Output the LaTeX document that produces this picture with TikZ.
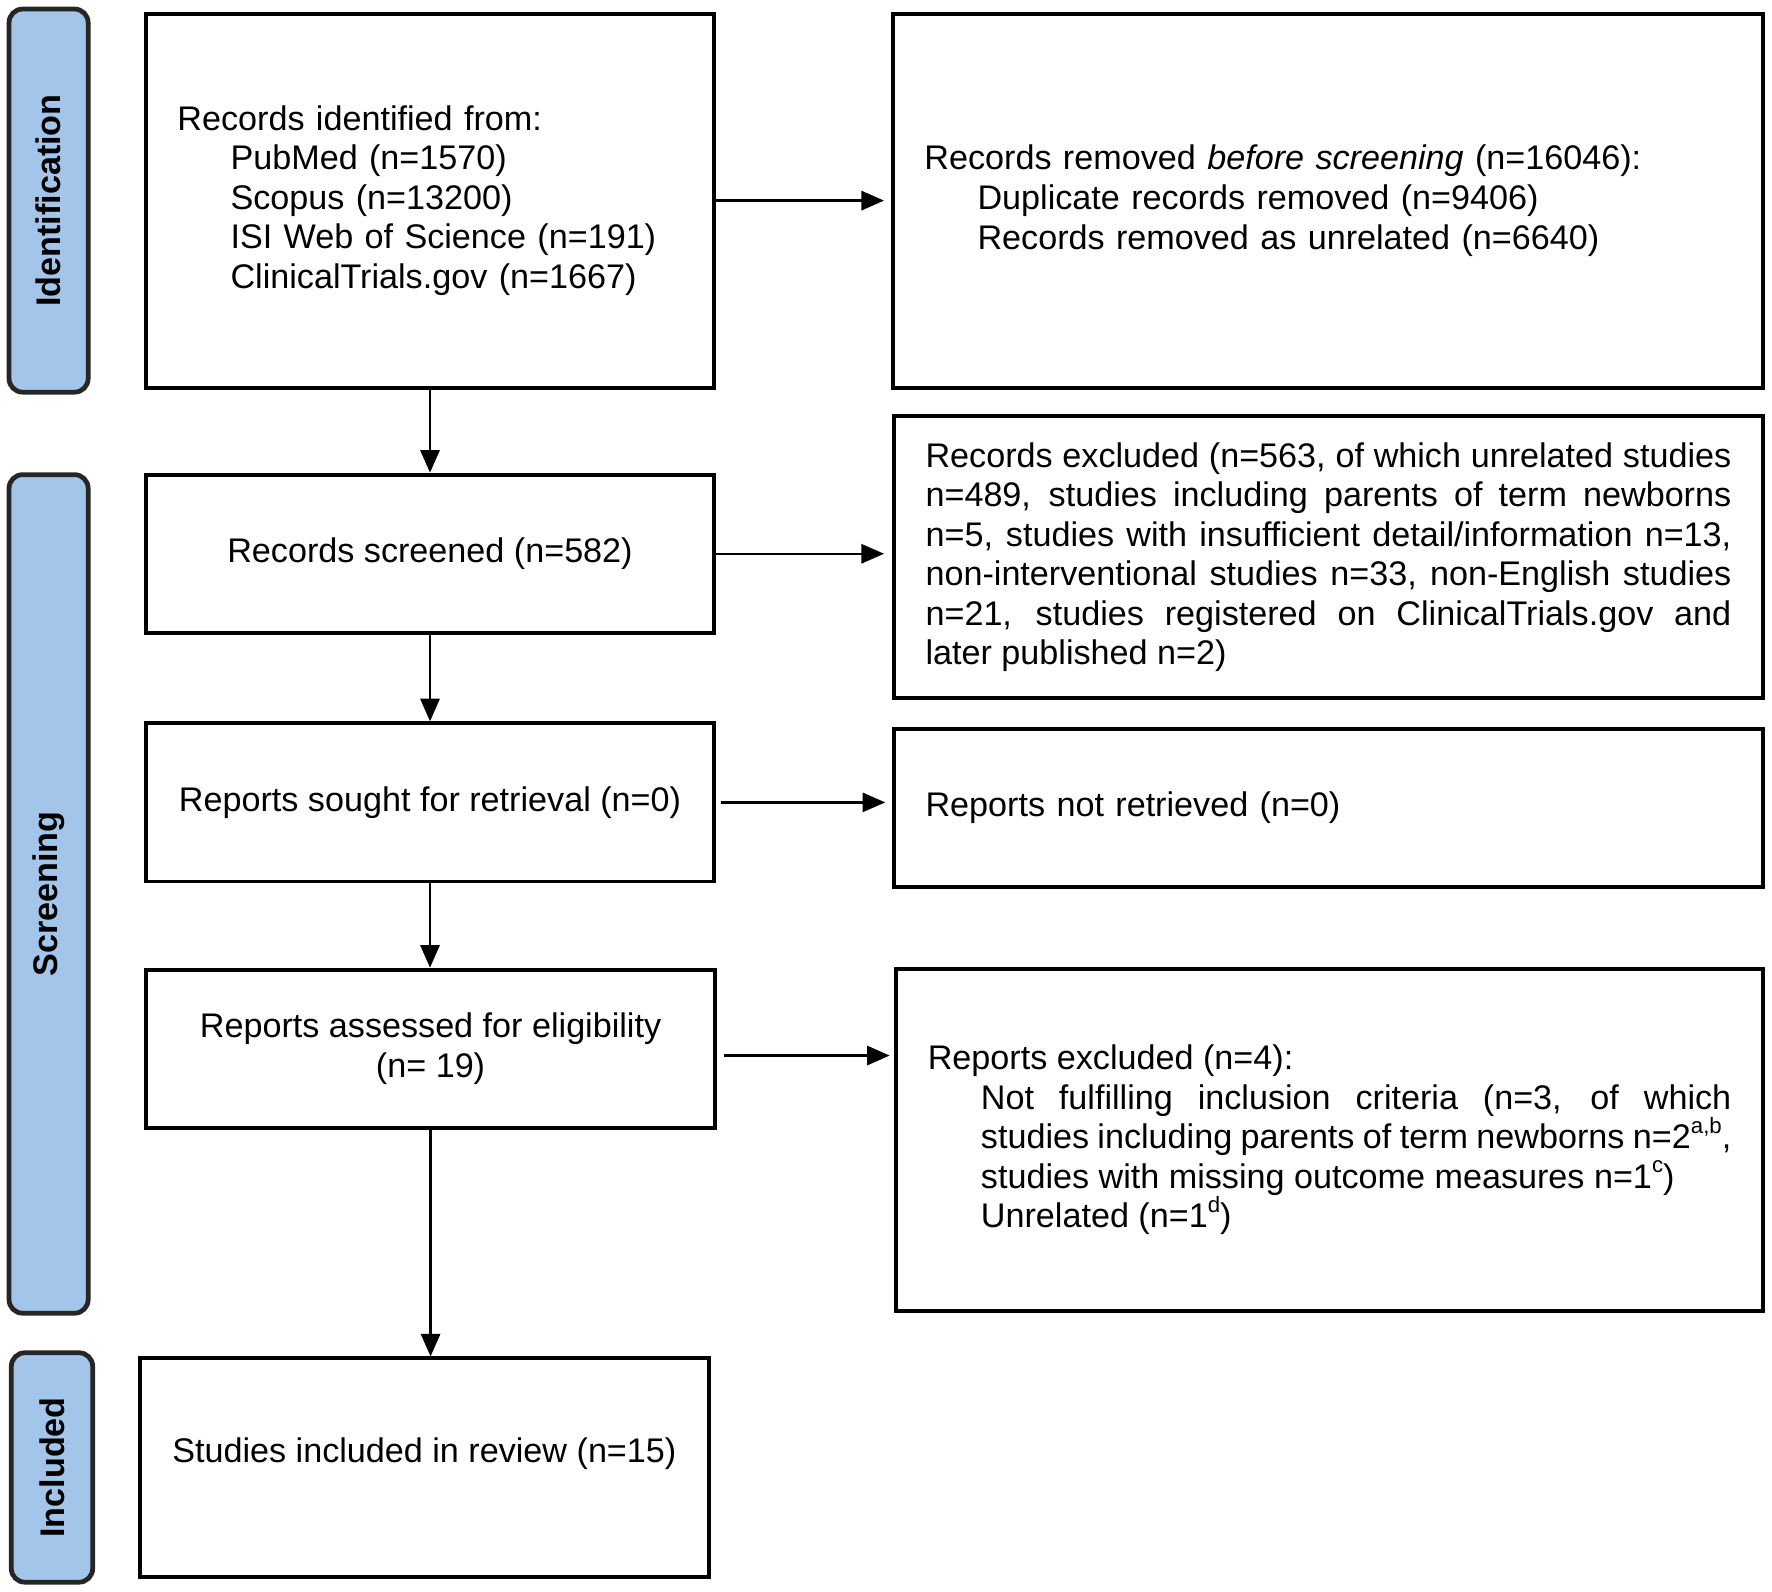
\documentclass[tikz,border=0pt]{standalone}
\usepackage{fontspec}
\setmainfont{Liberation Sans}
\usetikzlibrary{arrows.meta}
\definecolor{lanefill}{RGB}{162,197,233}
\setlength{\parindent}{0pt}
\newcommand{\fnmark}[1]{\raisebox{0.85ex}{\fontsize{5.6pt}{6pt}\selectfont #1}}

\begin{document}
\begin{tikzpicture}[
    font=\fontsize{8.6pt}{9.96pt}\selectfont,
    box/.style={draw, line width=1pt, inner xsep=0.28cm, inner ysep=0pt},
    lane/.style={draw=black!85, line width=1.2pt, rounded corners=0.12cm, fill=lanefill,
        rotate=90, inner sep=0pt, font=\fontsize{8.6pt}{9.96pt}\selectfont\bfseries},
    flow/.style={-{Triangle[length=0.2cm, width=0.17cm]}, line width=0.6pt}
]
    \useasboundingbox (0, 0) rectangle (15.68, -14.087);

    % phases
    \node[lane, minimum width=3.39cm, minimum height=0.70cm] (idlane) at (0.43, -1.775) {Identification};
    \node[lane, minimum width=7.42cm, minimum height=0.70cm] (screenlane) at (0.43, -7.91) {Screening};
    \node[lane, minimum width=2.03cm, minimum height=0.72cm] (inclane) at (0.46, -12.985) {Included};

    % left column
    \node[box, minimum width=5.03cm, minimum height=3.31cm, text width=4.47cm, align=left] (ident) at (3.805, -1.775)
        {Records identified from:\\
        \hspace*{0.47cm}PubMed (n=1570)\\
        \hspace*{0.47cm}Scopus (n=13200)\\
        \hspace*{0.47cm}ISI Web of Science (n=191)\\
        \hspace*{0.47cm}ClinicalTrials.gov (n=1667)};
    \node[box, minimum width=5.03cm, minimum height=1.40cm, align=center] (screened) at (3.805, -4.90)
        {Records screened (n=582)};
    \node[box, minimum width=5.03cm, minimum height=1.40cm, align=center] (sought) at (3.805, -7.10)
        {Reports sought for retrieval (n=0)};
    \node[box, minimum width=5.04cm, minimum height=1.40cm, align=center] (assessed) at (3.81, -9.28)
        {Reports assessed for eligibility\\(n= 19)};
    \node[box, minimum width=5.03cm, minimum height=1.93cm, align=center] (included) at (3.755, -12.985)
        {\raisebox{0.3cm}{Studies included in review (n=15)}};

    % right column
    \node[box, minimum width=7.70cm, minimum height=3.31cm, text width=7.14cm, align=left] (removed) at (11.75, -1.775)
        {Records removed \textit{before screening} (n=16046):\\
        \hspace*{0.47cm}Duplicate records removed (n=9406)\\
        \hspace*{0.47cm}Records removed as unrelated (n=6640)};
    \node[box, minimum width=7.69cm, minimum height=2.50cm, text width=7.13cm, align=justify] (excluded) at (11.755, -4.93)
        {Records excluded (n=563, of which unrelated studies\linebreak
        n=489, studies including parents of term newborns\linebreak
        n=5, studies with insufficient detail/information n=13,\linebreak
        non-interventional studies n=33, non-English studies\linebreak
        n=21, studies registered on ClinicalTrials.gov and\linebreak
        later published n=2)};
    \node[box, minimum width=7.69cm, minimum height=1.40cm, text width=7.13cm, align=left] (notretr) at (11.755, -7.15)
        {Reports not retrieved (n=0)};
    \node[box, minimum width=7.67cm, minimum height=3.03cm, text width=7.11cm, align=justify] (repexcl) at (11.765, -10.085)
        {Reports excluded (n=4):\par
        {\leftskip=0.47cm Not fulfilling inclusion criteria (n=3, of which\linebreak
        studies including parents of term newborns n=2\fnmark{a,b},\linebreak
        studies with missing outcome measures n=1\fnmark{c})\par
        Unrelated (n=1\fnmark{d})\par}};

    % arrows
    \draw[flow] (ident.south) -- (ident.south |- screened.north);
    \draw[flow] (screened.south) -- (sought.north);
    \draw[flow] (sought.south) -- (sought.south |- assessed.north);
    \draw[flow] (assessed.south) -- (assessed.south |- included.north);
    \draw[flow, shorten >=0.06cm] (ident.east) -- (ident.east -| removed.west);
    \draw[flow, shorten >=0.07cm] (screened.east) -- (screened.east -| excluded.west);
    \draw[flow, shorten <=0.04cm, shorten >=0.06cm] (sought.east) -- (sought.east -| notretr.west);
    \draw[flow, shorten <=0.06cm, shorten >=0.04cm] ([yshift=-0.06cm]assessed.east) -- ([yshift=-0.06cm]assessed.east -| repexcl.west);
\end{tikzpicture}
\end{document}
